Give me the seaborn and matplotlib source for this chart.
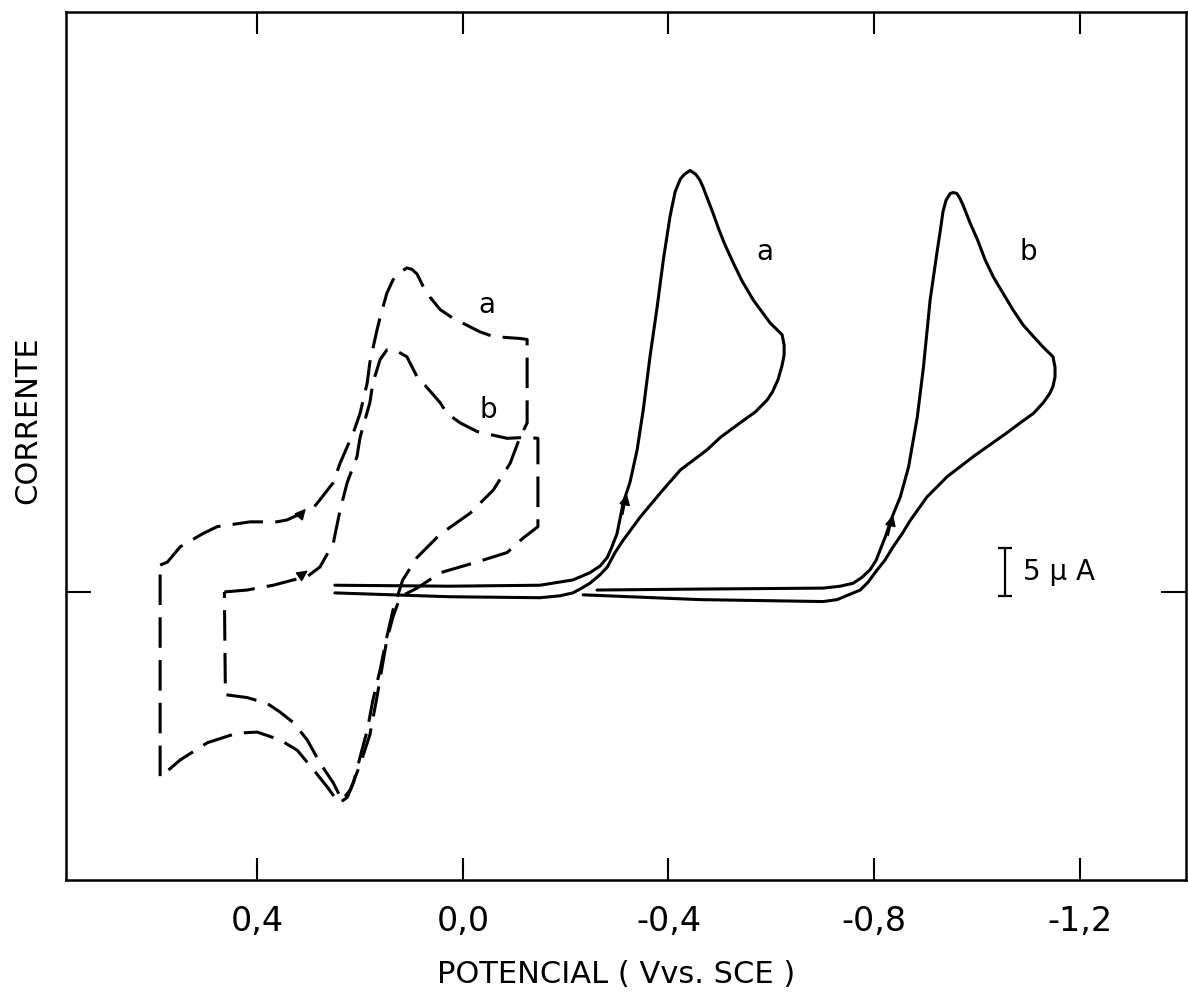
import pandas as pd
import matplotlib.pyplot as plt
import seaborn as sns

# --- Data (potential in V vs SCE, current in uA) ---
# dashed voltammogram "a" (closed loop, scan starts at the left switching potential)
DASH_A_V = [0.589, 0.575, 0.550, 0.505, 0.478, 0.414, 0.362, 0.342, 0.291, 0.278,
            0.252, 0.239, 0.213, 0.200, 0.186, 0.181, 0.167, 0.161, 0.148, 0.136,
            0.122, 0.109, 0.099, 0.089, 0.078, 0.064, 0.044, 0.019, -0.033, -0.059,
            -0.111, -0.125,
            -0.125, -0.111, -0.092, -0.059, -0.014, 0.031, 0.050, 0.089, 0.117, 0.136,
            0.148, 0.161, 0.175, 0.186, 0.200, 0.213, 0.225, 0.241, 0.264, 0.291,
            0.322, 0.356, 0.400, 0.439, 0.497, 0.550, 0.589, 0.589]
DASH_A_I = [2.8, 3.1, 4.7, 6.1, 6.8, 7.3, 7.3, 7.5, 8.75, 9.6,
            11.4, 13.4, 16.6, 18.6, 21.8, 23.9, 27.3, 28.6, 31.1, 32.5,
            33.3, 33.75, 33.6, 33.1, 31.9, 30.7, 29.4, 28.5, 27.1, 26.6,
            26.4, 26.3,
            17.6, 16.1, 13.4, 10.6, 8.2, 6.5, 5.7, 3.6, 1.25, -1.9,
            -4.7, -8.1, -11.25, -14.4, -17.2, -19.9, -21.4, -22.0, -20.3, -18.5,
            -16.5, -15.4, -14.6, -14.7, -15.7, -17.5, -19.3, 2.8]

# dashed voltammogram "b"
DASH_B_V = [0.464, 0.420, 0.369, 0.330, 0.303, 0.278, 0.252, 0.239, 0.225, 0.206,
            0.200, 0.181, 0.175, 0.161, 0.148, 0.132, 0.109, 0.089, 0.078, 0.044,
            0.031, 0.005, -0.028, -0.086, -0.125, -0.146, -0.146, -0.117, -0.086, -0.020,
            0.044, 0.089, 0.122, 0.136, 0.148, 0.167, 0.181, 0.200, 0.219, 0.235,
            0.252, 0.278, 0.303, 0.330, 0.356, 0.381, 0.420, 0.462, 0.464]
DASH_B_I = [0.0, 0.2, 0.7, 1.25, 1.6, 2.6, 5.1, 8.5, 11.4, 14.1,
            16.1, 19.7, 21.8, 24.2, 25.2, 25.2, 24.5, 22.4, 21.8, 19.7,
            18.6, 17.6, 16.7, 16.0, 16.1, 16.0, 6.8, 5.6, 4.1, 3.0,
            2.0, 0.4, -0.5, -2.6, -5.0, -10.9, -14.9, -18.0, -20.6, -21.7,
            -19.9, -17.8, -15.4, -13.6, -12.5, -11.6, -11.0, -10.7, 0.0]

# solid voltammogram "a"
SOLID_A_V = [0.249, 0.025, -0.150, -0.214, -0.247, -0.267, -0.281, -0.290, -0.300, -0.312,
             -0.325, -0.339, -0.351, -0.364, -0.378, -0.390, -0.403, -0.413, -0.423, -0.431,
             -0.442, -0.453, -0.461, -0.467, -0.477, -0.487, -0.497, -0.508, -0.524, -0.543,
             -0.565, -0.598, -0.621, -0.625, -0.625, -0.621, -0.613, -0.602, -0.592, -0.569,
             -0.539, -0.501, -0.475, -0.423, -0.384, -0.345, -0.312, -0.296, -0.281,
             -0.267, -0.247, -0.228, -0.214, -0.189, -0.150, 0.025, 0.249]
SOLID_A_I = [0.7, 0.6, 0.7, 1.25, 2.0, 2.7, 3.6, 4.7, 6.1, 9.3,
             11.4, 14.8, 19.0, 24.5, 29.7, 34.6, 39.1, 41.7, 43.0, 43.5,
             43.9, 43.5, 42.9, 42.2, 40.8, 39.4, 37.9, 36.4, 34.5, 32.4,
             30.4, 28.0, 26.8, 25.7, 24.7, 23.6, 22.1, 20.8, 20.0, 18.75,
             17.6, 16.1, 14.8, 12.7, 10.3, 7.8, 5.4, 4.1, 2.6,
             1.8, 0.9, 0.3, -0.1, -0.4, -0.6, -0.5, -0.1]

# solid voltammogram "b"
SOLID_B_V = [-0.261, -0.462, -0.701, -0.734, -0.759, -0.776, -0.792, -0.804, -0.812, -0.823,
             -0.835, -0.851, -0.867, -0.884, -0.896, -0.909, -0.923, -0.929, -0.934, -0.940,
             -0.948, -0.954, -0.961, -0.967, -0.973, -0.987, -1.001, -1.016, -1.032, -1.051,
             -1.070, -1.090, -1.110, -1.129, -1.148, -1.152, -1.152, -1.148, -1.142, -1.129,
             -1.110, -1.084, -1.059, -0.993, -0.942, -0.903, -0.871, -0.855, -0.837, -0.821,
             -0.806, -0.788, -0.773, -0.728, -0.701, -0.462, -0.234]
SOLID_B_I = [0.2, 0.3, 0.4, 0.6, 0.9, 1.5, 2.3, 3.3, 4.4, 5.9,
             7.8, 9.9, 13.0, 18.2, 23.4, 30.4, 35.6, 37.7, 39.6, 40.8,
             41.5, 41.6, 41.5, 41.0, 40.3, 38.4, 36.7, 34.6, 32.8, 31.1,
             29.4, 27.8, 26.6, 25.5, 24.5, 23.4, 22.4, 21.4, 20.7, 19.7,
             18.6, 17.6, 16.6, 14.1, 12.0, 9.9, 7.5, 6.1, 4.7, 3.3,
             2.3, 1.0, 0.2, -0.8, -1.0, -0.8, -0.3]

# curve labels
CURVE_LABELS = ['a', 'b', 'a', 'b']
LABEL_V = [-0.047, -0.049, -0.588, -1.100]
LABEL_I = [29.9, 19.0, 35.4, 35.4]

# scan-direction arrows (tail, head)
ARROW_TAIL_V = [0.318, 0.313, -0.310, -0.826]
ARROW_TAIL_I = [7.9, 1.8, 7.8, 5.6]
ARROW_HEAD_V = [0.302, 0.297, -0.320, -0.838]
ARROW_HEAD_I = [8.9, 2.4, 10.5, 8.3]

X_TICKS = [0.4, 0.0, -0.4, -0.8, -1.2]
X_TICK_LABELS = ['0,4', '0,0', '-0,4', '-0,8', '-1,2']

SCALE_BAR_UA = 5
SCALE_BAR_V = -1.055
SCALE_BAR_BOTTOM = -0.4


def make_frame(v, i):
    return pd.DataFrame({'Potencial': v, 'Corrente': i})


sns.set_theme(style='ticks')
plt.rcParams['font.family'] = ['DejaVu Sans']
plt.rcParams['text.color'] = 'black'
plt.rcParams['axes.labelcolor'] = 'black'

fig = plt.figure(figsize=(11.88, 9.94), dpi=100)
ax = fig.add_axes([0.0556, 0.1147, 0.9428, 0.8732])

dash_style = (0, (10, 4))
for v, i, ls in [(DASH_A_V, DASH_A_I, dash_style), (DASH_B_V, DASH_B_I, dash_style),
                 (SOLID_A_V, SOLID_A_I, '-'), (SOLID_B_V, SOLID_B_I, '-')]:
    sns.lineplot(data=make_frame(v, i), x='Potencial', y='Corrente', sort=False,
                 estimator=None, color='black', linewidth=2.2, linestyle=ls,
                 solid_joinstyle='round', dash_joinstyle='round', ax=ax)

for txt, v, i in zip(CURVE_LABELS, LABEL_V, LABEL_I):
    ax.text(v, i, txt, fontsize=20, ha='center', va='center', color='black')

for tv, ti, hv, hi in zip(ARROW_TAIL_V, ARROW_TAIL_I, ARROW_HEAD_V, ARROW_HEAD_I):
    ax.annotate('', xy=(hv, hi), xytext=(tv, ti),
                arrowprops=dict(arrowstyle='-|>', color='black', lw=1.2, mutation_scale=16))

# 5 uA scale bar
ax.errorbar([SCALE_BAR_V], [SCALE_BAR_BOTTOM + SCALE_BAR_UA / 2], yerr=[SCALE_BAR_UA / 2],
            fmt='none', ecolor='black', elinewidth=1.6, capsize=5, capthick=1.6)
ax.text(SCALE_BAR_V - 0.035, SCALE_BAR_BOTTOM + SCALE_BAR_UA / 2, '5 µ A',
        fontsize=20, ha='left', va='center', color='black')

# axes
ax.set_xlim(0.772, -1.407)
ax.set_ylim(-30.0, 60.4)
ax.set_xticks(X_TICKS)
ax.set_xticklabels(X_TICK_LABELS)
ax.set_yticks([0])
ax.tick_params(axis='x', direction='in', top=True, length=16, width=1.5,
               labelsize=24, pad=18, colors='black')
ax.tick_params(axis='y', direction='in', right=True, left=True, labelleft=False,
               length=18, width=1.5, colors='black')
for s in ax.spines.values():
    s.set_visible(True)
    s.set_linewidth(1.8)
    s.set_color('black')

ax.set_xlabel('POTENCIAL ( Vvs. SCE )', fontsize=22, va='center', color='black')
ax.xaxis.set_label_coords(0.491, -0.1094)
ax.set_ylabel('CORRENTE', fontsize=22, ha='center', va='center', color='black')
ax.yaxis.set_label_coords(-0.034, 0.53)

fig.savefig('out.png', dpi=100, facecolor='white')
